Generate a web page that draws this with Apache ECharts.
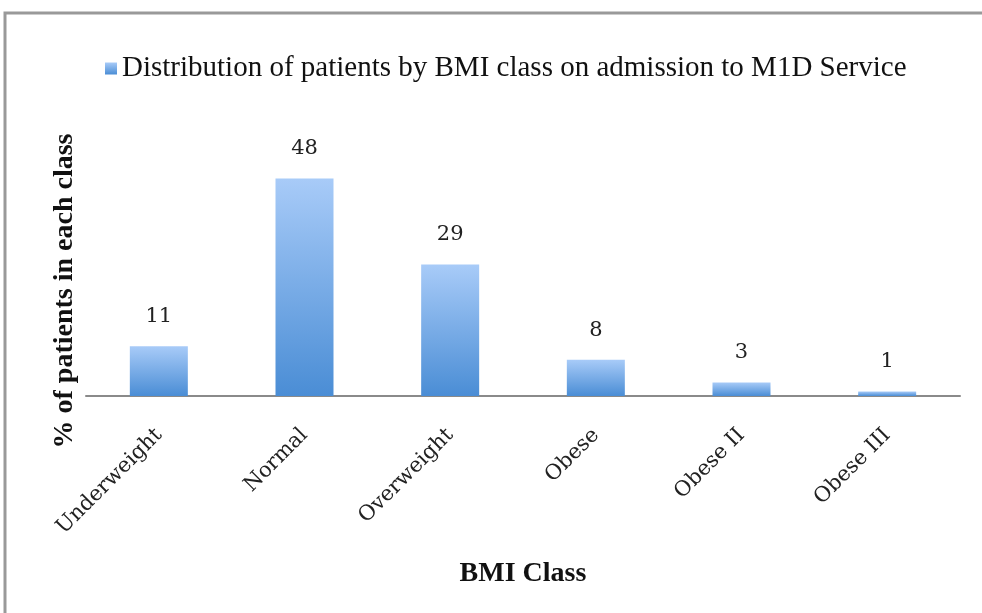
<!DOCTYPE html>
<html>
<head>
<meta charset="utf-8">
<title>BMI class</title>
<script src="https://cdn.jsdelivr.net/npm/echarts@6/dist/echarts.min.js"></script>
<style>
  body { margin: 0; background: #fff; }
  #chart { width: 982px; height: 613px; }
</style>
</head>
<body>
<div id="chart"></div>
<script>
var categories = ['Underweight', 'Normal', 'Overweight', 'Obese', 'Obese II', 'Obese III'];
var values = [11, 48, 29, 8, 3, 1];
var seriesName = 'Distribution of patients by BMI class on admission to M1D Service';

var chart = echarts.init(document.getElementById('chart'));

var barFill = new echarts.graphic.LinearGradient(0, 0, 0, 1, [
  { offset: 0, color: '#a8cbf8' },
  { offset: 1, color: '#4a8dd5' }
]);

var option = {
  backgroundColor: '#fff',
  animation: false,
  graphic: [{
    type: 'rect',
    shape: { x: 5, y: 13, width: 1000, height: 700 },
    style: { fill: 'none', stroke: '#999', lineWidth: 3 }
  }],
  legend: {
    left: 100,
    top: 49,
    itemWidth: 12,
    itemHeight: 12,
    itemGap: 10,
    icon: 'rect',
    textStyle: { fontFamily: 'Liberation Serif', fontSize: 29, color: '#111' },
    data: [seriesName]
  },
  grid: { left: 86, right: 22, top: 124, bottom: 217 },
  xAxis: {
    type: 'category',
    data: categories,
    name: 'BMI Class',
    nameLocation: 'middle',
    nameGap: 164,
    nameTextStyle: { fontFamily: 'Liberation Serif', fontWeight: 'bold', fontSize: 28, color: '#111' },
    axisLine: { lineStyle: { color: '#8a8a8a', width: 2 } },
    axisTick: { show: false },
    axisLabel: {
      rotate: 45,
      margin: 36,
      fontFamily: 'DejaVu Serif',
      fontSize: 21,
      color: '#222'
    }
  },
  yAxis: {
    type: 'value',
    min: 0,
    max: 60,
    name: '% of patients in each class',
    nameLocation: 'middle',
    nameGap: 7,
    nameTextStyle: {
      fontFamily: 'Liberation Serif', fontWeight: 'bold', fontSize: 28, color: '#111',
      padding: [0, 62, 0, 0]
    },
    axisLine: { show: false },
    axisTick: { show: false },
    axisLabel: { show: false },
    splitLine: { show: false }
  },
  series: [{
    name: seriesName,
    type: 'bar',
    data: values,
    barWidth: 58,
    itemStyle: { color: barFill },
    label: {
      show: true,
      position: 'top',
      distance: 19,
      fontFamily: 'DejaVu Serif',
      fontSize: 21,
      color: '#222'
    }
  }]
};

chart.setOption(option);
</script>
</body>
</html>
